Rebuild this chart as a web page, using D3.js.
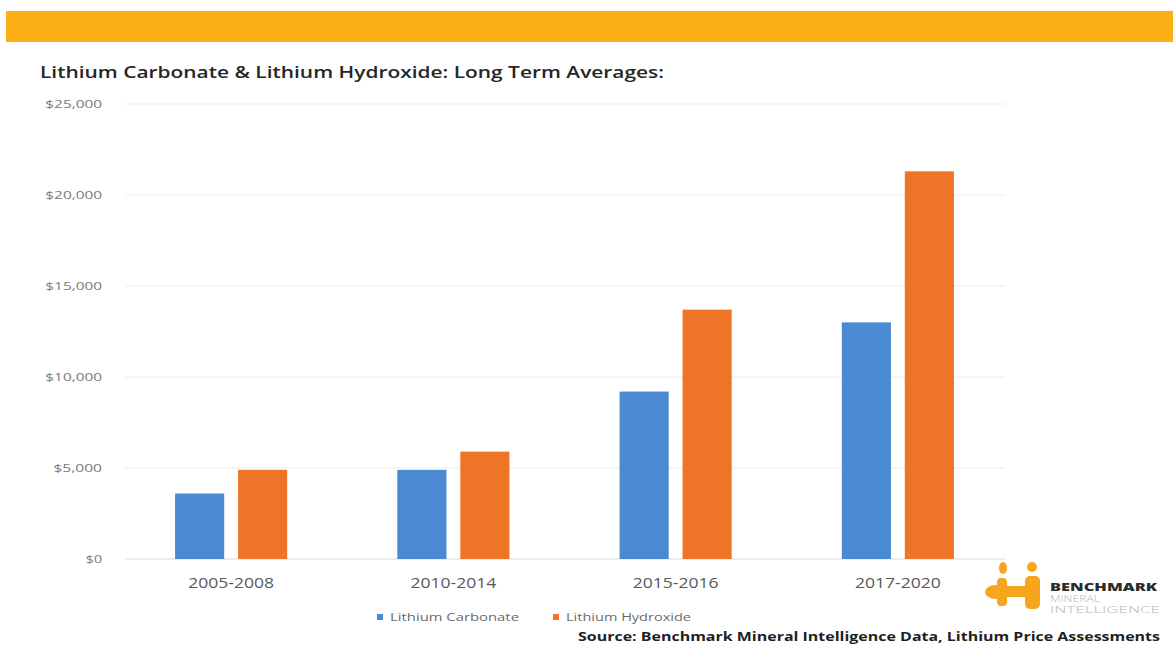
<!DOCTYPE html>
<html><head><meta charset="utf-8">
<script src="https://cdn.jsdelivr.net/npm/d3@7"></script>
<style>body{margin:0;background:#fff}svg{display:block}</style>
</head><body>
<script>
const categories = ["2005-2008","2010-2014","2015-2016","2017-2020"];
const seriesNames = ["Lithium Carbonate","Lithium Hydroxide"];
const carbonate = [3600, 4900, 9200, 13000];
const hydroxide = [4900, 5900, 13700, 21300];
const yTicks = [0, 5000, 10000, 15000, 20000, 25000];
const colors = ["#4a8ad3", "#ee7428"];

const W = 1173, H = 648;
const svg = d3.select("body").append("svg").attr("width", W).attr("height", H);
const font = "'Open Sans', 'Noto Sans', sans-serif";

// banner
svg.append("rect").attr("x", 6).attr("y", 11).attr("width", W - 6).attr("height", 31).attr("fill", "#fcb016");

// title
svg.append("text").attr("x", 40).attr("y", 78).attr("font-family", font).attr("font-weight", 600)
  .attr("font-size", 15.5).attr("fill", "#262626")
  .attr("textLength", 624).attr("lengthAdjust", "spacingAndGlyphs")
  .text("Lithium Carbonate & Lithium Hydroxide: Long Term Averages:");

const x0 = d3.scaleBand().domain(categories).range([120, 1009]).paddingInner(0).paddingOuter(0);
const x1 = d3.scaleBand().domain(seriesNames).range([0, x0.bandwidth()]).paddingInner(0.22).paddingOuter(0.874);
const y = d3.scaleLinear().domain([0, 25000]).range([559, 104]);

// y axis labels
const fmt = d => "$" + d3.format(",")(d);
const yAxis = d3.axisLeft(y).tickValues(yTicks).tickSize(0).tickFormat(fmt);
const ga = svg.append("g").attr("transform", "translate(105,0)").call(yAxis);
ga.select(".domain").remove();
ga.selectAll("text").attr("font-family", font).attr("font-size", 11).attr("fill", "#7a7a7a")
  .attr("textLength", d => fmt(d).length * 8.1).attr("lengthAdjust", "spacingAndGlyphs");

// grid
svg.append("g").selectAll("line").data(yTicks).join("line")
  .attr("x1", 125).attr("x2", 1005).attr("y1", d => y(d)).attr("y2", d => y(d))
  .attr("stroke", d => d === 0 ? "#d9d9d9" : "#ececec").attr("stroke-width", 1);

// bars
const data = categories.map((c, i) => ({cat: c, vals: [carbonate[i], hydroxide[i]]}));
svg.append("g").selectAll("g").data(data).join("g")
  .attr("transform", d => `translate(${x0(d.cat)},0)`)
  .selectAll("rect").data(d => d.vals.map((v, j) => ({name: seriesNames[j], v, j})))
  .join("rect")
  .attr("x", d => x1(d.name)).attr("width", x1.bandwidth())
  .attr("y", d => y(d.v)).attr("height", d => y(0) - y(d.v))
  .attr("fill", d => colors[d.j]);

// x axis labels
const xAxis = d3.axisBottom(x0).tickSize(0).tickPadding(0);
const gx = svg.append("g").attr("transform", "translate(0,580)").call(xAxis);
gx.select(".domain").remove();
gx.selectAll("text").attr("font-family", font).attr("font-size", 14).attr("fill", "#595959").attr("dy", "0.6em")
  .attr("textLength", 86).attr("lengthAdjust", "spacingAndGlyphs");

// legend
const legX = [377, 553];
const legW = [129, 125];
seriesNames.forEach((n, i) => {
  svg.append("rect").attr("x", legX[i]).attr("y", 614).attr("width", 6).attr("height", 6).attr("fill", colors[i]);
  svg.append("text").attr("x", legX[i] + 13).attr("y", 621).attr("font-family", font).attr("font-size", 11)
    .attr("fill", "#6b6b6b").attr("textLength", legW[i]).attr("lengthAdjust", "spacingAndGlyphs").text(n);
});

// source
svg.append("text").attr("x", 578).attr("y", 641).attr("font-family", font).attr("font-weight", 700)
  .attr("font-size", 12.5).attr("fill", "#1f1f1f")
  .attr("textLength", 582).attr("lengthAdjust", "spacingAndGlyphs")
  .text("Source: Benchmark Mineral Intelligence Data, Lithium Price Assessments");

// logo
const logo = svg.append("g").attr("fill", "#f7a51c");
logo.append("ellipse").attr("cx", 1003).attr("cy", 568).attr("rx", 4).attr("ry", 6);
logo.append("circle").attr("cx", 1032).attr("cy", 567).attr("r", 5);
logo.append("rect").attr("x", 997).attr("y", 578).attr("width", 10).attr("height", 28).attr("rx", 4);
logo.append("rect").attr("x", 1025).attr("y", 576).attr("width", 15).attr("height", 33).attr("rx", 5);
logo.append("ellipse").attr("cx", 996).attr("cy", 592).attr("rx", 11).attr("ry", 7);
logo.append("rect").attr("x", 1000).attr("y", 586).attr("width", 30).attr("height", 11).attr("rx", 5);
svg.append("text").attr("x", 1050).attr("y", 591).attr("font-family", font).attr("font-weight", 800)
  .attr("font-size", 10).attr("fill", "#2b2b2b").attr("textLength", 107).attr("lengthAdjust", "spacingAndGlyphs").text("BENCHMARK");
svg.append("text").attr("x", 1050).attr("y", 602).attr("font-family", font).attr("font-weight", 300)
  .attr("font-size", 9).attr("fill", "#b8b8b8").attr("textLength", 50).attr("lengthAdjust", "spacingAndGlyphs").text("MINERAL");
svg.append("text").attr("x", 1050).attr("y", 613).attr("font-family", font).attr("font-weight", 300)
  .attr("font-size", 9).attr("fill", "#b8b8b8").attr("textLength", 110).attr("lengthAdjust", "spacingAndGlyphs").text("INTELLIGENCE");
</script>
</body></html>
